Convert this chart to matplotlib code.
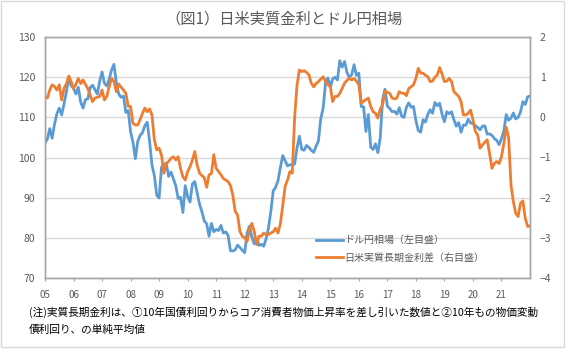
import matplotlib
matplotlib.use("Agg")
import matplotlib.pyplot as plt
from matplotlib.patches import Rectangle

plt.rcParams['font.family'] = ['Noto Sans CJK JP', 'DejaVu Sans']

# 月末値, 2005年1月〜2022年1月
years = [f"{y % 100:02d}" for y in range(2005, 2022)]

usd_jpy = [
    103.6, 104.6, 107.2, 104.8, 108.3, 110.9, 112.3, 110.6, 113.3, 116.4, 119.8, 117.9,
    117.2, 115.8, 117.5, 113.8, 112.3, 114.4, 114.6, 117.4, 118.0, 116.9, 115.8, 119.0,
    121.3, 118.5, 117.8, 119.5, 121.8, 123.2, 118.6, 115.8, 115.0, 115.3, 111.2, 111.7,
    106.4, 103.8, 99.7, 104.0, 105.5, 106.2, 107.9, 108.8, 104.0, 98.1, 95.5, 90.6,
    89.9, 97.6, 98.3, 98.6, 95.3, 96.4, 94.7, 93.0, 89.8, 90.1, 86.3, 93.0,
    90.3, 88.9, 93.4, 94.0, 91.2, 88.4, 86.5, 84.2, 83.5, 80.4, 83.6, 81.5,
    82.1, 81.8, 83.1, 81.2, 81.5, 80.6, 76.8, 76.7, 77.0, 78.2, 77.6, 76.9,
    76.3, 81.2, 82.9, 80.2, 78.5, 79.8, 78.1, 78.4, 77.9, 79.8, 82.5, 86.6,
    91.7, 92.6, 94.2, 97.5, 100.5, 99.2, 97.9, 98.2, 98.2, 98.4, 102.4, 105.3,
    102.0, 101.8, 103.0, 102.5, 101.8, 101.3, 102.8, 104.1, 109.7, 112.3, 118.6, 119.8,
    117.5, 119.6, 120.0, 119.3, 124.1, 122.5, 123.9, 121.2, 119.9, 120.6, 123.1, 120.4,
    121.0, 112.7, 112.6, 106.5, 110.7, 102.6, 102.0, 103.4, 101.2, 104.8, 114.5, 117.0,
    112.8, 112.2, 111.4, 111.5, 110.8, 112.4, 110.3, 110.0, 112.5, 113.6, 112.5, 112.7,
    109.2, 106.7, 106.3, 109.4, 108.8, 110.7, 111.9, 111.0, 113.7, 112.9, 113.5, 110.8,
    108.9, 111.4, 110.9, 111.4, 109.4, 107.8, 108.7, 106.3, 108.1, 108.0, 109.5, 108.6,
    108.4, 107.9, 107.5, 106.9, 107.8, 107.9, 105.8, 105.9, 105.5, 104.7, 104.3, 103.2,
    104.7, 106.6, 110.7, 109.3, 109.8, 111.1, 109.6, 110.0, 111.3, 113.9, 113.2, 115.1,
    115.3,
]

real_rate_gap = [
    0.52, 0.48, 0.68, 0.81, 0.77, 0.68, 0.81, 0.43, 0.72, 0.84, 1.03, 0.89,
    0.72, 0.82, 0.97, 0.84, 0.93, 0.82, 0.72, 0.55, 0.39, 0.48, 0.50, 0.52,
    0.68, 0.43, 0.52, 0.77, 0.97, 0.89, 0.64, 0.83, 0.75, 0.68, 0.60, 0.27,
    0.27, -0.15, -0.19, -0.19, -0.06, 0.10, 0.23, 0.14, 0.21, 0.06, -0.56, -0.81,
    -0.77, -0.94, -1.39, -1.15, -1.10, -1.02, -0.98, -1.06, -0.98, -1.27, -1.48, -1.56,
    -1.35, -1.23, -1.06, -0.85, -1.19, -1.39, -1.45, -1.50, -1.74, -1.43, -1.40, -0.93,
    -1.27, -1.35, -1.43, -1.52, -1.56, -1.60, -1.70, -1.93, -2.34, -2.43, -2.84, -2.96,
    -3.00, -3.09, -2.80, -2.64, -2.84, -3.17, -2.96, -2.96, -2.88, -2.92, -2.92, -2.88,
    -2.85, -2.76, -2.88, -2.65, -2.20, -1.72, -1.56, -1.35, -1.39, 0.00, 0.80, 1.18,
    1.14, 1.16, 1.12, 1.06, 0.85, 0.76, 0.84, 0.89, 0.95, 1.01, 0.89, 0.81,
    0.77, 0.39, 0.52, 0.52, 0.60, 0.72, 0.85, 0.92, 0.97, 0.93, 0.97, 0.90,
    0.81, 0.35, 0.40, 0.44, 0.48, 0.27, 0.14, 0.10, -0.02, 0.20, 0.31, 0.66,
    0.62, 0.60, 0.48, 0.46, 0.48, 0.64, 0.60, 0.60, 0.54, 0.72, 0.76, 0.81,
    0.97, 1.22, 1.10, 1.10, 1.05, 1.01, 0.89, 0.90, 1.00, 1.05, 1.24, 1.08,
    0.89, 0.90, 0.97, 0.89, 0.64, 0.58, 0.52, 0.39, 0.06, 0.06, 0.10, 0.18,
    -0.06, -0.35, -0.44, -0.77, -0.69, -0.62, -0.56, -0.90, -1.27, -1.15, -1.10, -1.15,
    -0.98, -0.65, -0.25, -0.50, -1.68, -2.10, -2.39, -2.47, -2.14, -2.08, -2.51, -2.72,
    -2.70,
]

grey_text = "#595959"
months = list(range(len(usd_jpy)))

fig = plt.figure(figsize=(5.67, 3.49), dpi=100)
fig.patches.append(Rectangle((1 / 567, 2 / 349), 563 / 567, 346 / 349,
                             transform=fig.transFigure, fill=False,
                             edgecolor="#d9d9d9", linewidth=1.0))

ax = fig.add_axes([45 / 567, 1 - 278 / 349, 485 / 567, 241 / 349])
ax2 = ax.twinx()

line1, = ax.plot(months, usd_jpy, color="#5B9BD5", linewidth=2.0,
                 label="ドル円相場（左目盛）")
line2, = ax2.plot(months, real_rate_gap, color="#ED7D31", linewidth=2.0,
                  label="日米実質長期金利差（右目盛）")

ax.set_xlim(0, len(usd_jpy) - 1)
ax.set_ylim(70, 130)
ax.set_yticks(range(70, 131, 10))
ax2.set_ylim(-4, 2)
ax2.set_yticks(range(-4, 3))

ax.set_xticks(range(0, 193, 12))
ax.set_xticklabels(years)

ax.grid(axis="y", color="#d9d9d9", linewidth=1.0)
ax.set_axisbelow(True)

for a in (ax, ax2):
    for s in a.spines.values():
        s.set_color("#a6a6a6")
        s.set_linewidth(1.0)

ax.tick_params(axis="x", direction="out", length=2.5, color="#a6a6a6",
               labelsize=7, labelcolor=grey_text, pad=6.5)
ax.tick_params(axis="y", length=0, labelsize=7.5, labelcolor=grey_text, pad=7)
ax2.tick_params(axis="y", length=0, labelsize=7.5, labelcolor=grey_text, pad=7)

fig.text(0.5, 1 - 19 / 349, "（図1）日米実質金利とドル円相場", ha="center", va="center",
         fontsize=11, color=grey_text)

fig.legend(handles=[line1, line2], loc="upper left",
           bbox_to_anchor=(311 / 567, 1 - 230 / 349), frameon=False,
           fontsize=7.2, labelcolor=grey_text, handlelength=2.7,
           handletextpad=0.1, labelspacing=0.75, borderpad=0)

fig.text(29 / 567, 1 - 312 / 349,
         "(注)実質長期金利は、①10年国債利回りからコア消費者物価上昇率を差し引いた数値と②10年もの物価変動",
         ha="left", va="center", fontsize=7.7, color="#000000")
fig.text(29 / 567, 1 - 330 / 349, "債利回り、の単純平均値",
         ha="left", va="center", fontsize=7.7, color="#000000")

fig.savefig("out.png", dpi=100)
